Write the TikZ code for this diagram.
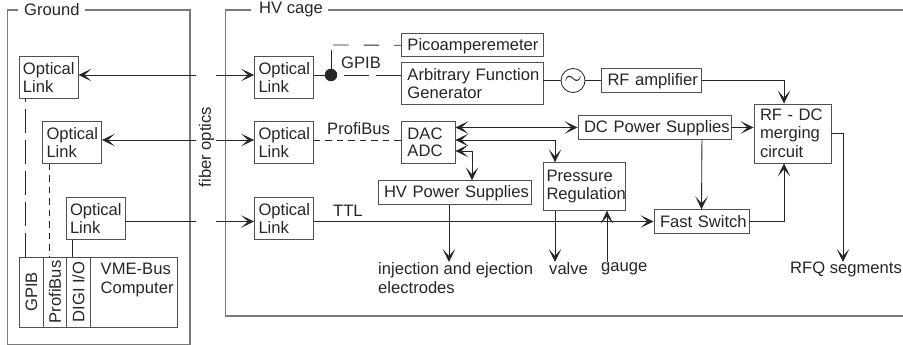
\documentclass[tikz,border=0pt]{standalone}
\usepackage{fontspec}
\setmainfont{Liberation Sans}
\usetikzlibrary{arrows.meta,calc}
\definecolor{ink}{HTML}{262626}
\definecolor{frameg}{HTML}{7A7A7A}
\definecolor{boxg}{HTML}{505050}
\tikzset{
  x=1pt,y=-1pt,
  every node/.style={font=\fontsize{16.6}{19}\selectfont,text=ink},
  boxn/.style={draw=boxg,line width=0.9pt,inner sep=0pt,align=left},
  cellv/.style={draw=boxg,line width=0.9pt,inner sep=0pt,rotate=90,minimum width=70pt,minimum height=23.5pt},
  lab/.style={inner sep=0pt,align=left},
  framel/.style={draw=frameg,line width=1.3pt},
  conn/.style={draw=ink,line width=0.85pt},
  tip/.style={-{Stealth[length=13pt,width=12.5pt,inset=7pt]}},
  dtip/.style={{Stealth[length=13pt,width=12.5pt,inset=7pt]}-{Stealth[length=13pt,width=12.5pt,inset=7pt]}},
  ldash/.style={dash pattern=on 24pt off 7pt,dash phase=21pt},
  sdash/.style={dash pattern=on 6.5pt off 5pt},
}
\newcommand{\bx}[6]{\node[boxn,minimum width=#3pt,minimum height=#4pt,text width=#3pt] (#1) at (#2) {\leftskip=#5pt\relax\vspace{-1.5pt}#6\par};}
\begin{document}
\begin{tikzpicture}
\useasboundingbox (0,0) rectangle (903,345);
% frames
\coordinate (g1) at (18,10); \coordinate (g2) at (7.5,10); \coordinate (g3) at (7.5,344.3); \coordinate (g4) at (190,344.3); \coordinate (g5) at (190,10); \coordinate (g6) at (85,10);
\draw[framel] (g1) -- (g2) -- (g3) -- (g4) -- (g5) -- (g6);
\node[lab,anchor=west] (tg) at (24,9.5) {Ground};
\coordinate (h1) at (251,10); \coordinate (h2) at (225.5,10); \coordinate (h3) at (225.5,316); \coordinate (h4) at (903,316); \coordinate (h5) at (903,10); \coordinate (h6) at (328,10);
\draw[framel] (h1) -- (h2) -- (h3) -- (h4);
\draw[framel] (h6) -- (h5);
\node[lab,anchor=west] (th) at (259,9.5) {HV cage};
% ground boxes
\bx{oa}{48.5,77.5}{59}{41.5}{4}{Optical\\Link}
\bx{ob}{72,142.5}{59}{41.5}{4}{Optical\\Link}
\bx{oc}{95.5,218.5}{59}{41.5}{4}{Optical\\Link}
\node[cellv] (gpib) at (31.5,292) {GPIB};
\node[cellv] (prof) at (55,292) {ProfiBus};
\node[cellv] (digi) at (78.5,292) {DIGI I/O};
\node[boxn,minimum width=87pt,minimum height=70pt] (vme) at (133.7,292) {};
\node[lab,anchor=north west] (vmet) at (100.5,263) {VME-Bus\\Computer};
\coordinate (x1) at (25,0); \coordinate (x2) at (49,0); \coordinate (x3) at (72,0);
\draw[conn,ldash] (x1 |- oa.south) -- (x1 |- gpib.east);
\draw[conn,sdash] (x2 |- ob.south) -- (x2 |- prof.east);
\draw[conn] (x3 |- oc.south) -- (x3 |- digi.east);
% HV optical
\bx{ha}{284,77.5}{59}{41.5}{4}{Optical\\Link}
\bx{hb}{284,142.5}{59}{41.5}{4}{Optical\\Link}
\bx{hc}{284,218.5}{59}{41.5}{4}{Optical\\Link}
% fibre
\node[lab,rotate=90] (fo) at (206.5,147) {fiber optics};
\coordinate (fl1) at (196,75); \coordinate (fr1) at (216,75);
\coordinate (fl2) at (196,140); \coordinate (fr2) at (216,140);
\coordinate (fl3) at (196,221.5); \coordinate (fr3) at (216,221.5);
\draw[conn,tip] (fl1) -- (oa.east |- fl1);
\draw[conn,tip] (fr1) -- (ha.west |- fr1);
\draw[conn,tip] (fl2) -- (ob.east |- fl2);
\draw[conn,tip] (fr2) -- (hb.west |- fr2);
\draw[conn] (fl3) -- (oc.east |- fl3);
\draw[conn,tip] (fr3) -- (hc.west |- fr3);
% HV boxes
\bx{pico}{472.2,45.2}{141.5}{23.5}{6}{Picoamperemeter}
\bx{afg}{472.2,83.5}{141.5}{41.5}{6}{Arbitrary Function\\Generator}
\node[draw=ink,line width=0.8pt,circle,minimum size=24pt,inner sep=0pt] (sine) at (573,80.5) {\scalebox{1.3}{$\sim$}};
\bx{rfa}{651.5,80.5}{100}{23.5}{6}{RF amplifier}
\bx{dc}{654.5,127.5}{153}{23.5}{6}{DC Power Supplies}
\bx{dac}{428.2,142.5}{53.5}{41.5}{6}{DAC\\ADC}
\bx{hvps}{454.5,192.5}{153}{23.5}{6}{HV Power Supplies}
\bx{pr}{584,186.5}{82}{47.5}{3.5}{Pressure\\Regulation}
\bx{fs}{701.5,221.5}{95}{23.5}{6}{Fast Switch}
\bx{rfdc}{792.5,133.5}{77}{59}{6}{RF - DC\\merging\\circuit}
% labels
\node[lab,anchor=west] (lg) at (341,63) {GPIB};
\node[lab,anchor=west] (lp) at (327,128.5) {ProfiBus};
\node[lab,anchor=west] (lt) at (333,211) {TTL};
\node[lab,anchor=north west] (inj) at (378,262) {injection and ejection\\electrodes};
\node[lab,anchor=west] (valve) at (549,269) {valve};
\node[lab,anchor=west] (gauge) at (601,269) {gauge};
\node[lab,anchor=west] (rfq) at (790,269) {RFQ segments};
% GPIB bus
\node[circle,fill=ink,minimum size=12.5pt,inner sep=0pt] (dot) at (331,75) {};
\draw[conn] (ha.east |- dot) -- (dot);
\coordinate (gs) at (344,75);
\draw[conn,dash pattern=on 25pt off 7pt] (gs) -- (afg.west |- gs);
\coordinate (up) at (331,50);
\draw[conn] (dot) -- (up);
\coordinate (upd) at (333,45);
\draw[conn,dash pattern=on 15.5pt off 15pt] (upd) -- (pico.west);
% ProfiBus, TTL
\draw[conn,sdash] (hb.east |- fr2) -- (dac.west |- fr2);
\draw[conn,tip] (hc.east |- fr3) -- (fs.west);
% DAC
\draw[conn,dtip] (dac.east |- dc.west) -- (dc.west);
\coordinate (pt) at (555,140);
\draw[conn,dtip] (dac.east |- pt) -- (pt) -- (pt |- pr.north);
\coordinate (ht) at (472,151);
\draw[conn,dtip] (dac.east |- ht) -- (ht) -- (ht |- hvps.north);
% outputs
\coordinate (e1) at (449,262); \coordinate (e2) at (555,262); \coordinate (e3) at (607,262); \coordinate (e4) at (843,262);
\draw[conn,tip] (e1 |- hvps.south) -- (e1);
\draw[conn,tip] (e2 |- pr.south) -- (e2);
\draw[conn,tip] (e3) -- (e3 |- pr.south);
\draw[conn] (afg.east |- sine) -- (sine.west);
\draw[conn] (sine.east) -- (rfa.west);
\coordinate (m1) at (784,104);
\draw[conn,tip] (rfa.east) -| (m1 |- rfdc.north);
\draw[conn,tip] (dc.east) -- (rfdc.west |- dc.east);
\draw[conn,tip] (dc.south -| rfa.east) -- (fs.north);
\draw[conn,tip] (fs.east) -| (m1 |- rfdc.south);
\draw[conn,tip] (rfdc.east) -| (e4);
\end{tikzpicture}
\end{document}
